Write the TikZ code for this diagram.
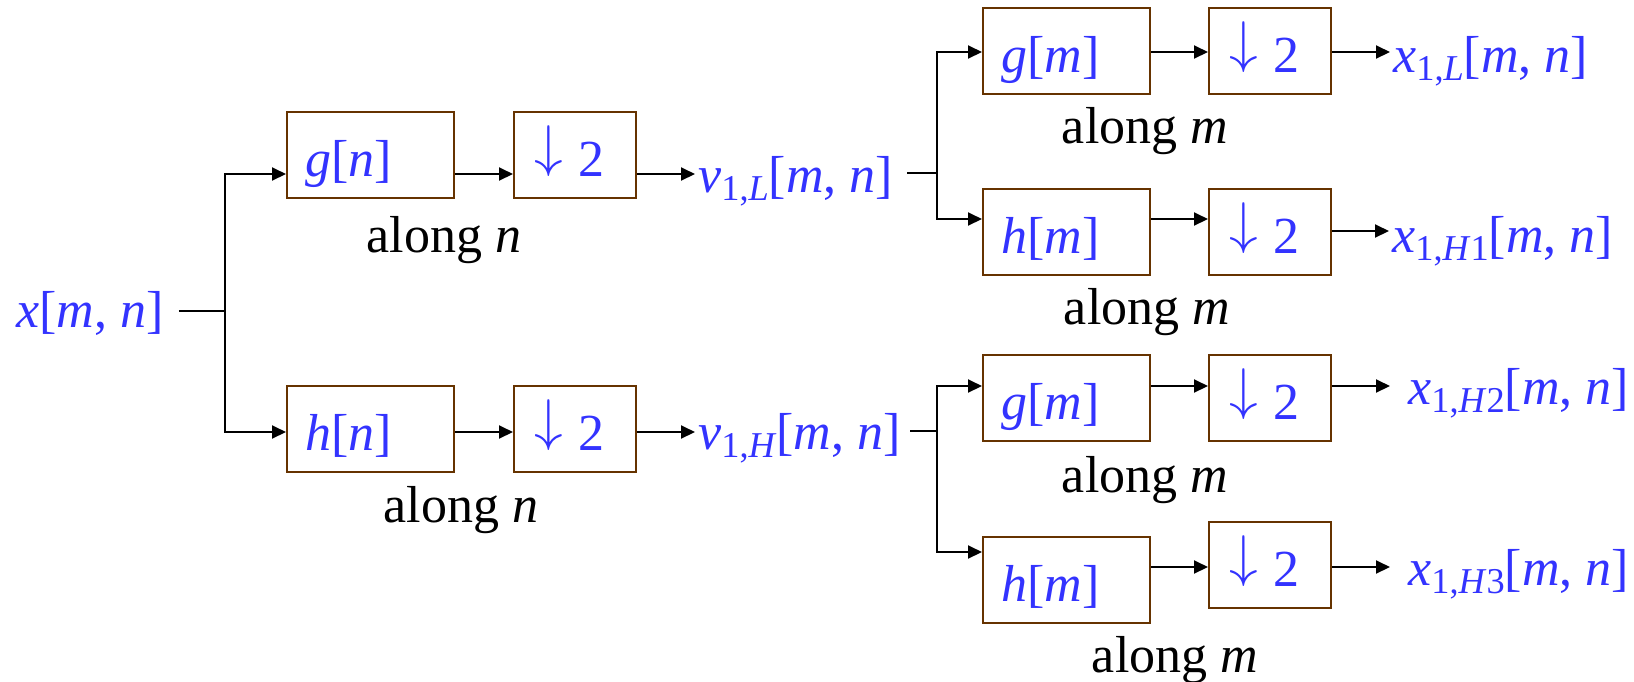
\documentclass[tikz,border=0pt]{standalone}
\usepackage{fontspec}
\setmainfont{Liberation Serif}
\usetikzlibrary{arrows.meta}
\definecolor{sigblue}{RGB}{51,51,255}
\definecolor{boxbrown}{RGB}{102,51,0}
\newcommand{\lowsub}[1]{\raisebox{-0.16cm}{\fontsize{20.7pt}{24pt}\selectfont #1}}
\newcommand{\sigmn}[2]{\textit{#1}\lowsub{#2}[\textit{m}, \textit{n}]}
\newcommand{\downtwo}{\raisebox{0.2em}{\resizebox*{!}{0.98em}{$\downarrow$}}\hspace{0.3em}2}

\begin{document}
\begin{tikzpicture}[x=0.02cm,y=-0.02cm,font=\fontsize{29.6pt}{34pt}\selectfont,
  filt/.style={draw=boxbrown,line width=1.4pt,text=sigblue,inner ysep=0pt,inner xsep=0.36cm,
    text width=2.62cm,align=left,text height=1.28cm,text depth=0.44cm,anchor=base west},
  down/.style={filt,inner xsep=0.4cm,text width=1.64cm},
  sig/.style={text=sigblue,inner sep=0pt,inner xsep=0.06cm,anchor=base west},
  along/.style={anchor=base,inner sep=0pt},
  wire/.style={line width=1.1pt},
  arr/.style={wire,-{Triangle[length=0.28cm,width=0.26cm]}},
  trunk/.style={line width=1.5pt,line cap=rect}]
\useasboundingbox (0,0) rectangle (1634,681);
% first stage: filtering along n
\node[sig,inner xsep=0pt] (xin) at (16,327) {\textit{x}[\textit{m}, \textit{n}]};
\node[filt] (gn) at (286,176) {\textit{g}[\textit{n}]};
\node[down] (dgn) at (513,176) {\downtwo};
\node[filt] (hn) at (286,450) {\textit{h}[\textit{n}]};
\node[down] (dhn) at (513,450) {\downtwo};
\node[sig] (v1l) at (695,192) {\sigmn{v}{1,\textit{L}}};
\node[sig] (v1h) at (695,449) {\sigmn{v}{1,\textit{H}}};
\node[along] (lgn) at (444,252) {along \textit{n}};
\node[along] (lhn) at (461,522) {along \textit{n}};
\coordinate (s1) at (225,311);
\coordinate (r1) at (225,174);
\coordinate (r2) at (225,432);
\draw[wire,shorten <=0.3cm] (xin.east |- s1) -- (s1);
\draw[trunk] (r1) -- (r2);
\draw[arr] (r1) -- (gn.west |- r1);
\draw[arr] (gn.east |- r1) -- (dgn.west |- r1);
\draw[arr] (dgn.east |- r1) -- (v1l.west |- r1);
\draw[arr] (r2) -- (hn.west |- r2);
\draw[arr] (hn.east |- r2) -- (dhn.west |- r2);
\draw[arr] (dhn.east |- r2) -- (v1h.west |- r2);
% second stage: filtering along m
\node[filt] (gma) at (982,72) {\textit{g}[\textit{m}]};
\node[down] (dga) at (1208,72) {\downtwo};
\node[sig] (x1l) at (1390,72) {\sigmn{x}{1,\textit{L}}};
\node[filt] (hmb) at (982,253) {\textit{h}[\textit{m}]};
\node[down] (dhb) at (1208,253) {\downtwo};
\node[sig] (x1h1) at (1389,252) {\sigmn{x}{1,\textit{H}1}};
\node[filt] (gmc) at (982,419) {\textit{g}[\textit{m}]};
\node[down] (dgc) at (1208,419) {\downtwo};
\node[sig] (x1h2) at (1405,404) {\sigmn{x}{1,\textit{H}2}};
\node[filt] (hmd) at (982,601) {\textit{h}[\textit{m}]};
\node[down] (dhd) at (1208,586) {\downtwo};
\node[sig] (x1h3) at (1405,585) {\sigmn{x}{1,\textit{H}3}};
\node[along] (lga) at (1145,143) {along \textit{m}};
\node[along] (lhb) at (1147,324) {along \textit{m}};
\node[along] (lgc) at (1145,492) {along \textit{m}};
\node[along] (lhd) at (1175,672) {along \textit{m}};
\coordinate (s2) at (937,173);
\coordinate (s3) at (937,431);
\coordinate (ra) at (937,52);
\coordinate (rb) at (937,219);
\coordinate (rb2) at (937,231);
\coordinate (rc) at (937,386);
\coordinate (rd) at (937,552);
\coordinate (rd2) at (937,567);
\draw[wire,shorten <=0.22cm] (v1l.east |- s2) -- (s2);
\draw[wire,shorten <=0.12cm] (v1h.east |- s3) -- (s3);
\draw[trunk] (ra) -- (rb);
\draw[trunk] (rc) -- (rd);
\draw[arr] (ra) -- (gma.west |- ra);
\draw[arr] (gma.east |- ra) -- (dga.west |- ra);
\draw[arr] (dga.east |- ra) -- (x1l.west |- ra);
\draw[arr] (rb) -- (hmb.west |- rb);
\draw[arr] (hmb.east |- rb) -- (dhb.west |- rb);
\draw[arr] (dhb.east |- rb2) -- (x1h1.west |- rb2);
\draw[arr] (rc) -- (gmc.west |- rc);
\draw[arr] (gmc.east |- rc) -- (dgc.west |- rc);
\draw[arr,shorten >=0.3cm] (dgc.east |- rc) -- (x1h2.west |- rc);
\draw[arr] (rd) -- (hmd.west |- rd);
\draw[arr] (hmd.east |- rd2) -- (dhd.west |- rd2);
\draw[arr,shorten >=0.3cm] (dhd.east |- rd2) -- (x1h3.west |- rd2);
\end{tikzpicture}
\end{document}
